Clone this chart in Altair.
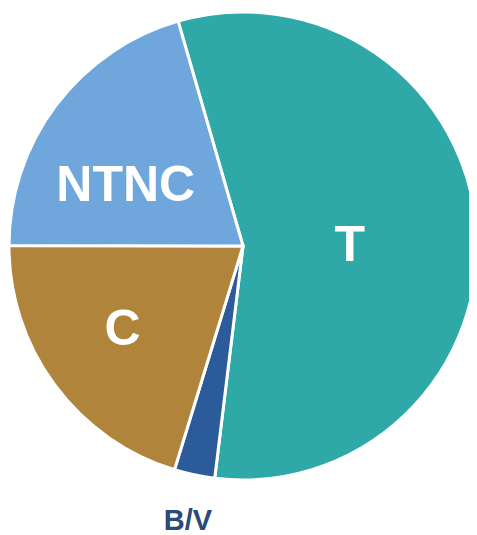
import math
import altair as alt
import pandas as pd

categories = ["T", "B/V", "C", "NTNC"]
values = [56.4, 2.8, 20.3, 20.5]
colors = ["#2EA9A7", "#2C5B9B", "#B0843A", "#6FA6DC"]

df = pd.DataFrame({"cat": categories, "val": values, "order": [0, 1, 2, 3]})
total = float(sum(values))

start = math.radians(343.9)
theta_scale = alt.Scale(domain=[0, total], range=[start, start + 2 * math.pi])

cx, cy = 235, 238
R = 234

base = alt.Chart(df).transform_stack(
    stack="val", groupby=[], as_=["v0", "v1"], sort=[alt.SortField("order")]
).transform_calculate(mid="(datum.v0 + datum.v1) / 2")

pie = base.mark_arc(outerRadius=R, stroke="white", strokeWidth=3, x=cx, y=cy).encode(
    theta=alt.Theta("v0:Q", scale=theta_scale),
    theta2="v1:Q",
    color=alt.Color("cat:N", scale=alt.Scale(domain=categories, range=colors), legend=None),
)

def label(cat, r, dx, dy, size, color):
    return base.transform_filter(alt.datum.cat == cat).mark_text(
        radius=r, x=cx, y=cy, dx=dx, dy=dy, fontSize=size, fontWeight="bold",
        font="Liberation Sans", color=color, align="center", baseline="middle",
    ).encode(theta=alt.Theta("mid:Q", scale=theta_scale), text="cat:N")

labels = [
    label("T", 104, 3, 8, 50, "white"),
    label("NTNC", 133, -11, 20, 50, "white"),
    label("C", 151, 1, -6, 50, "white"),
    label("B/V", 280, 3, 1, 29, "#2A4A78"),
]

chart = alt.layer(pie, *labels).properties(
    width=461, height=527, autosize=alt.AutoSizeParams(type="none"), padding=0
).configure_view(stroke=None)

chart.save("out.html", embed_options={"renderer": "svg", "actions": False})
